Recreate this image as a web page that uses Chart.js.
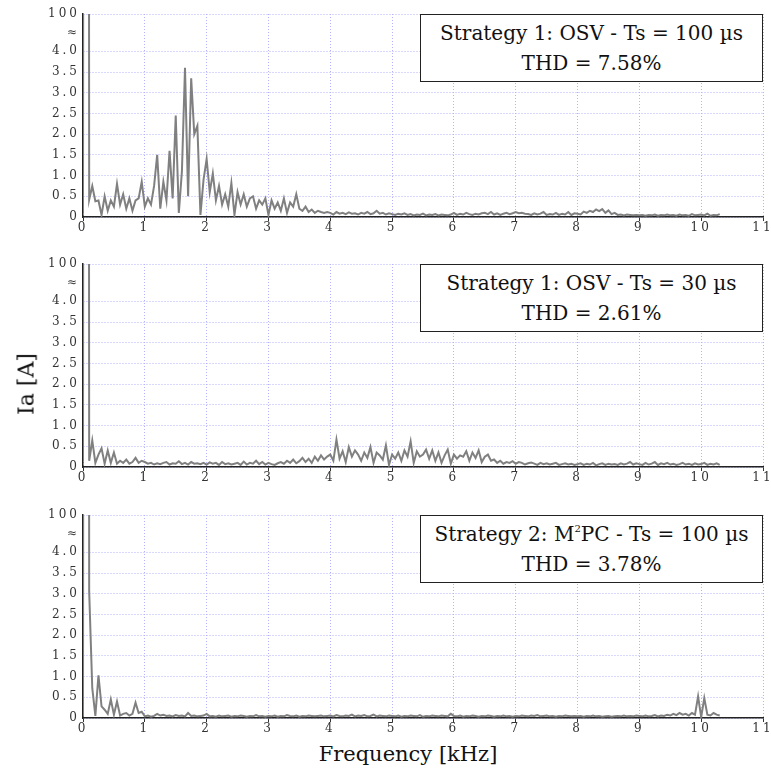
<!DOCTYPE html>
<html>
<head>
<meta charset="utf-8">
<script src="https://cdn.jsdelivr.net/npm/chart.js@4/dist/chart.umd.min.js"></script>
<style>
  body { margin: 0; background: #fff; }
  #wrap { position: relative; width: 771px; height: 774px; background: #fff; font-family: "DejaVu Serif", serif; color: #111; }
  .panel { position: absolute; left: 0; width: 771px; height: 240px; }
  .panel canvas { position: absolute; left: 0; top: 0; }
  .note {
    position: absolute; left: 420px; top: 14px; width: 343px; height: 68px;
    box-sizing: border-box; border: 1.3px solid #222; background: #fff;
    text-align: center; font-size: 20px; line-height: 30px; padding-top: 3px;
  }
  .note sup { font-size: 10px; vertical-align: 9px; line-height: 0; }
  #ylabel { position: absolute; left: 26px; top: 384px; font-size: 22px; white-space: nowrap;
    transform: translate(-50%, -50%) rotate(-90deg); }
  #xlabel { position: absolute; left: 408px; top: 754px; font-size: 21px; white-space: nowrap;
    transform: translate(-50%, -50%); }
</style>
</head>
<body>
<div id="wrap">
  <div class="panel" style="top:0px">
    <canvas id="osv100Chart" width="771" height="240"></canvas>
    <div class="note">Strategy 1: OSV - Ts = 100 µs<br>THD = 7.58%</div>
  </div>
  <div class="panel" style="top:250px">
    <canvas id="osv30Chart" width="771" height="240"></canvas>
    <div class="note">Strategy 1: OSV - Ts = 30 µs<br>THD = 2.61%</div>
  </div>
  <div class="panel" style="top:501px">
    <canvas id="m2pcChart" width="771" height="240"></canvas>
    <div class="note">Strategy 2: M<sup>2</sup>PC - Ts = 100 µs<br>THD = 3.78%</div>
  </div>
  <div id="ylabel">Ia [A]</div>
  <div id="xlabel">Frequency [kHz]</div>
</div>
<script>
const freqStep = 0.05; // kHz between harmonic bins

const xTicks = [0, 1, 2, 3, 4, 5, 6, 7, 8, 9, 10, 11];
// the axis is broken above 4.0: the top tick stands for the 100 A fundamental
const yTickValues = [0, 0.5, 1, 1.5, 2, 2.5, 3, 3.5, 4, 4.45, 4.9];
const yTickLabels = ['0', '0.5', '1.0', '1.5', '2.0', '2.5', '3.0', '3.5', '4.0', '≈', '100'];
const breakValue = 4.45;
const yTop = 4.9;

// Ia spectrum, strategy 1 (OSV), Ts = 100 us
const osv100Values = [
  0.10, 100, 0.42, 0.75, 0.38, 0.40, 0.05, 0.50, 0.15, 0.40, 0.25, 0.80, 0.30, 0.55, 0.20, 0.45, 0.15, 0.40, 0.45, 0.85,
  0.25, 0.45, 0.30, 0.75, 1.50, 0.20, 0.85, 0.40, 1.60, 0.45, 2.45, 0.10, 1.10, 3.60, 0.50, 3.35, 2.00, 2.20, 0.05, 0.90,
  1.40, 0.60, 1.05, 0.40, 0.75, 0.30, 0.55, 0.25, 0.82, 0.05, 0.60, 0.30, 0.55, 0.25, 0.45, 0.50, 0.20, 0.40, 0.30, 0.45,
  0.05, 0.40, 0.20, 0.35, 0.15, 0.45, 0.10, 0.35, 0.25, 0.55, 0.20, 0.15, 0.25, 0.12, 0.18, 0.10, 0.15, 0.12, 0.10, 0.12,
  0.10, 0.06, 0.12, 0.08, 0.10, 0.07, 0.11, 0.08, 0.09, 0.06, 0.10, 0.08, 0.12, 0.07, 0.09, 0.15, 0.08, 0.10, 0.06, 0.09,
  0.07, 0.05, 0.08, 0.06, 0.09, 0.05, 0.07, 0.04, 0.06, 0.05, 0.08, 0.04, 0.06, 0.05, 0.07, 0.04, 0.06, 0.05, 0.04, 0.06,
  0.10, 0.05, 0.08, 0.06, 0.10, 0.07, 0.05, 0.08, 0.06, 0.09, 0.10, 0.07, 0.12, 0.06, 0.09, 0.05, 0.08, 0.10, 0.07, 0.09,
  0.12, 0.09, 0.10, 0.08, 0.07, 0.05, 0.09, 0.06, 0.08, 0.12, 0.05, 0.07, 0.06, 0.10, 0.05, 0.08, 0.06, 0.12, 0.05, 0.09,
  0.08, 0.06, 0.13, 0.10, 0.15, 0.12, 0.18, 0.14, 0.19, 0.10, 0.16, 0.07, 0.10, 0.05, 0.06, 0.04, 0.06, 0.05, 0.04, 0.05,
  0.04, 0.05, 0.03, 0.05, 0.04, 0.06, 0.03, 0.05, 0.04, 0.06, 0.04, 0.05, 0.03, 0.06, 0.04, 0.05, 0.03, 0.07, 0.04, 0.05,
  0.06, 0.04, 0.08, 0.03, 0.05, 0.04, 0.07
];

// Ia spectrum, strategy 1 (OSV), Ts = 30 us
const osv30Values = [
  0.15, 100, 0.15, 0.64, 0.10, 0.30, 0.45, 0.08, 0.40, 0.10, 0.35, 0.08, 0.15, 0.10, 0.18, 0.08, 0.12, 0.22, 0.10, 0.15,
  0.12, 0.08, 0.10, 0.06, 0.09, 0.07, 0.10, 0.12, 0.06, 0.09, 0.08, 0.14, 0.07, 0.10, 0.06, 0.12, 0.08, 0.09, 0.07, 0.10,
  0.06, 0.11, 0.08, 0.10, 0.05, 0.12, 0.07, 0.09, 0.06, 0.08, 0.10, 0.05, 0.13, 0.06, 0.10, 0.08, 0.15, 0.07, 0.12, 0.06,
  0.10, 0.07, 0.05, 0.09, 0.12, 0.08, 0.15, 0.10, 0.18, 0.09, 0.14, 0.22, 0.12, 0.20, 0.10, 0.25, 0.15, 0.28, 0.18, 0.25,
  0.30, 0.15, 0.66, 0.20, 0.38, 0.12, 0.48, 0.25, 0.40, 0.30, 0.15, 0.35, 0.22, 0.48, 0.10, 0.35, 0.28, 0.18, 0.52, 0.05,
  0.30, 0.20, 0.35, 0.15, 0.40, 0.25, 0.62, 0.10, 0.38, 0.25, 0.30, 0.42, 0.20, 0.40, 0.15, 0.35, 0.10, 0.28, 0.42, 0.08,
  0.30, 0.20, 0.28, 0.25, 0.38, 0.15, 0.35, 0.22, 0.40, 0.12, 0.25, 0.30, 0.15, 0.18, 0.10, 0.15, 0.08, 0.12, 0.10, 0.14,
  0.08, 0.12, 0.10, 0.06, 0.09, 0.11, 0.08, 0.05, 0.10, 0.07, 0.09, 0.06, 0.08, 0.10, 0.05, 0.07, 0.09, 0.06, 0.08, 0.05,
  0.07, 0.09, 0.05, 0.08, 0.06, 0.10, 0.04, 0.07, 0.09, 0.05, 0.08, 0.06, 0.07, 0.05, 0.09, 0.06, 0.08, 0.12, 0.06, 0.09,
  0.07, 0.05, 0.10, 0.06, 0.08, 0.12, 0.05, 0.09, 0.07, 0.10, 0.06, 0.08, 0.05, 0.07, 0.10, 0.06, 0.08, 0.05, 0.09, 0.06,
  0.07, 0.10, 0.05, 0.08, 0.06, 0.09, 0.05
];

// Ia spectrum, strategy 2 (M2PC), Ts = 100 us
const m2pcValues = [
  0.05, 100, 3.05, 0.72, 0.05, 1.03, 0.28, 0.20, 0.10, 0.45, 0.08, 0.40, 0.06, 0.10, 0.12, 0.06, 0.10, 0.37, 0.12, 0.15,
  0.04, 0.06, 0.03, 0.05, 0.10, 0.06, 0.08, 0.05, 0.06, 0.04, 0.07, 0.05, 0.06, 0.04, 0.12, 0.05, 0.06, 0.04, 0.05, 0.06,
  0.10, 0.04, 0.05, 0.03, 0.06, 0.04, 0.05, 0.06, 0.03, 0.05, 0.04, 0.06, 0.05, 0.03, 0.05, 0.04, 0.07, 0.04, 0.05, 0.03,
  0.05, 0.04, 0.06, 0.03, 0.05, 0.04, 0.07, 0.05, 0.04, 0.06, 0.03, 0.05, 0.04, 0.06, 0.05, 0.04, 0.05, 0.06, 0.04, 0.05,
  0.06, 0.04, 0.07, 0.05, 0.04, 0.06, 0.05, 0.08, 0.04, 0.06, 0.05, 0.07, 0.04, 0.05, 0.08, 0.04, 0.06, 0.05, 0.04, 0.06,
  0.05, 0.04, 0.06, 0.03, 0.05, 0.04, 0.06, 0.05, 0.04, 0.07, 0.03, 0.05, 0.04, 0.06, 0.05, 0.04, 0.06, 0.05, 0.04, 0.10,
  0.05, 0.04, 0.06, 0.03, 0.05, 0.04, 0.06, 0.05, 0.03, 0.05, 0.04, 0.06, 0.05, 0.03, 0.05, 0.04, 0.06, 0.04, 0.05, 0.03,
  0.05, 0.04, 0.06, 0.05, 0.04, 0.06, 0.05, 0.07, 0.04, 0.05, 0.06, 0.04, 0.05, 0.03, 0.05, 0.04, 0.06, 0.05, 0.04, 0.05,
  0.04, 0.05, 0.03, 0.05, 0.04, 0.06, 0.04, 0.05, 0.03, 0.04, 0.05, 0.03, 0.04, 0.05, 0.04, 0.06, 0.04, 0.05, 0.04, 0.06,
  0.05, 0.04, 0.06, 0.04, 0.05, 0.07, 0.04, 0.06, 0.05, 0.08, 0.06, 0.10, 0.07, 0.12, 0.08, 0.10, 0.06, 0.12, 0.08, 0.52,
  0.02, 0.48, 0.08, 0.06, 0.12, 0.08, 0.06
];

const gridColor = 'rgb(178, 178, 255)';
const tickFont = { family: 'DejaVu Serif', size: 12 };

// wide, airy digits on both axes
const spacedLabels = {
  id: 'spacedLabels',
  beforeDraw(chart) {
    chart.ctx.letterSpacing = '3px';
  }
};

function toPoints(values) {
  return values.map((v, i) => ({ x: i * freqStep, y: v }));
}

function createChart(ctx, values) {
  return new Chart(ctx, {
    type: 'line',
    data: {
      datasets: [
        {
          data: toPoints(values),
          borderColor: 'rgb(128, 128, 128)',
          borderWidth: 2,
          pointRadius: 0,
          tension: 0,
          fill: false
        }
      ]
    },
    options: {
      responsive: false,
      animation: false,
      layout: { padding: { top: 14, right: 8, left: 0, bottom: 0 } },
      plugins: {
        legend: { display: false },
        tooltip: { enabled: false }
      },
      scales: {
        x: {
          type: 'linear',
          min: 0,
          max: 11,
          afterBuildTicks: (scale) => { scale.ticks = xTicks.map(v => ({ value: v })); },
          afterFit: (scale) => {
            scale.height = 23;
            scale.paddingLeft = 0;
            scale.paddingRight = 0;
          },
          ticks: {
            autoSkip: false,
            maxRotation: 0,
            padding: 0,
            color: '#333',
            font: tickFont,
            callback: (value) => String(value)
          },
          grid: {
            color: gridColor,
            lineWidth: 1,
            drawTicks: true,
            tickLength: 4,
            tickColor: '#333'
          },
          border: { display: true, color: '#222', width: 1.5, dash: [1, 2] }
        },
        y: {
          min: 0,
          max: yTop,
          afterBuildTicks: (scale) => { scale.ticks = yTickValues.map(v => ({ value: v })); },
          afterFit: (scale) => {
            scale.width = 83;
            scale.paddingTop = 0;
            scale.paddingBottom = 0;
          },
          ticks: {
            padding: 3,
            color: '#333',
            font: tickFont,
            callback: (value, index) => yTickLabels[index]
          },
          grid: {
            color: (c) => (c.tick && c.tick.value === breakValue ? 'rgba(0,0,0,0)' : gridColor),
            lineWidth: 1,
            drawTicks: false
          },
          border: { display: true, color: '#222', width: 1.5, dash: [1, 2] }
        }
      }
    },
    plugins: [spacedLabels]
  });
}

const osv100Chart = createChart(document.getElementById('osv100Chart').getContext('2d'), osv100Values);
const osv30Chart = createChart(document.getElementById('osv30Chart').getContext('2d'), osv30Values);
const m2pcChart = createChart(document.getElementById('m2pcChart').getContext('2d'), m2pcValues);
</script>
</body>
</html>
